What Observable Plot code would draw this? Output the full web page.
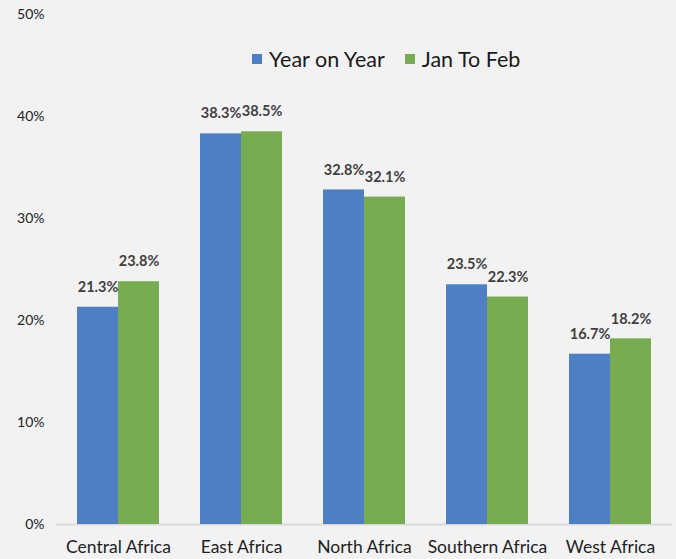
<!DOCTYPE html>
<html>
<head>
<meta charset="utf-8">
<script src="https://cdn.jsdelivr.net/npm/d3@7"></script>
<script src="https://cdn.jsdelivr.net/npm/@observablehq/plot@0.6"></script>
<style>
  html, body { margin: 0; padding: 0; background: #f2f2f2; }
  #wrap { position: relative; width: 676px; height: 559px; font-family: Lato, "Open Sans", sans-serif; }
  #legend { position: absolute; top: 46px; left: 252px; display: flex; align-items: center; font-size: 21.5px; color: #1a1a1a; }
  .sw { display: inline-block; width: 10px; height: 10px; margin-right: 7px; }
  .item { display: flex; align-items: center; margin-right: 20px; }
</style>
</head>
<body>
<div id="wrap"><div id="chart"></div><div id="legend"></div></div>
<script>
const regions = ["Central Africa", "East Africa", "North Africa", "Southern Africa", "West Africa"];
const seriesNames = ["Year on Year", "Jan To Feb"];
const yearOnYear = [21.3, 38.3, 32.8, 23.5, 16.7];
const janToFeb = [23.8, 38.5, 32.1, 22.3, 18.2];
const colors = ["#4e7ec3", "#77ad50"];
const yTicks = [0, 10, 20, 30, 40, 50];

const data = [];
regions.forEach((r, i) => {
  data.push({region: r, series: seriesNames[0], value: yearOnYear[i]});
  data.push({region: r, series: seriesNames[1], value: janToFeb[i]});
});

const chart = Plot.plot({
  width: 676,
  height: 559,
  marginTop: 14,
  marginBottom: 35,
  marginLeft: 55,
  marginRight: 3,
  style: {background: "transparent", fontFamily: "Lato, 'Open Sans', sans-serif"},
  fx: {domain: regions, paddingInner: 0.33, paddingOuter: 0.165, label: null},
  x: {domain: seriesNames, padding: 0, axis: null},
  y: {domain: [0, 50], label: null},
  color: {domain: seriesNames, range: colors},
  marks: [
    Plot.axisY({ticks: yTicks, tickSize: 0, tickPadding: 33, tickFormat: d => d + "%", fontSize: 14, color: "#222", label: null}),
    Plot.axisFx({anchor: "bottom", tickSize: 0, tickPadding: 16, fontSize: 17.5, color: "#222", label: null}),
    Plot.ruleY([0], {stroke: "#d9d9d9", strokeWidth: 2, insetLeft: -21, insetRight: -21}),
    Plot.barY(data, {fx: "region", x: "series", y: "value", fill: "series"}),
    Plot.text(data, {fx: "region", x: "series", y: "value", text: d => d.value.toFixed(1) + "%", dy: -20, fontSize: 14.5, fontWeight: "bold", fill: "#3f3f3f"})
  ]
});
document.getElementById("chart").appendChild(chart);

const legend = document.getElementById("legend");
seriesNames.forEach((s, i) => {
  const it = document.createElement("span");
  it.className = "item";
  const sw = document.createElement("span");
  sw.className = "sw";
  sw.style.background = colors[i];
  it.appendChild(sw);
  it.appendChild(document.createTextNode(s));
  legend.appendChild(it);
});
</script>
</body>
</html>
